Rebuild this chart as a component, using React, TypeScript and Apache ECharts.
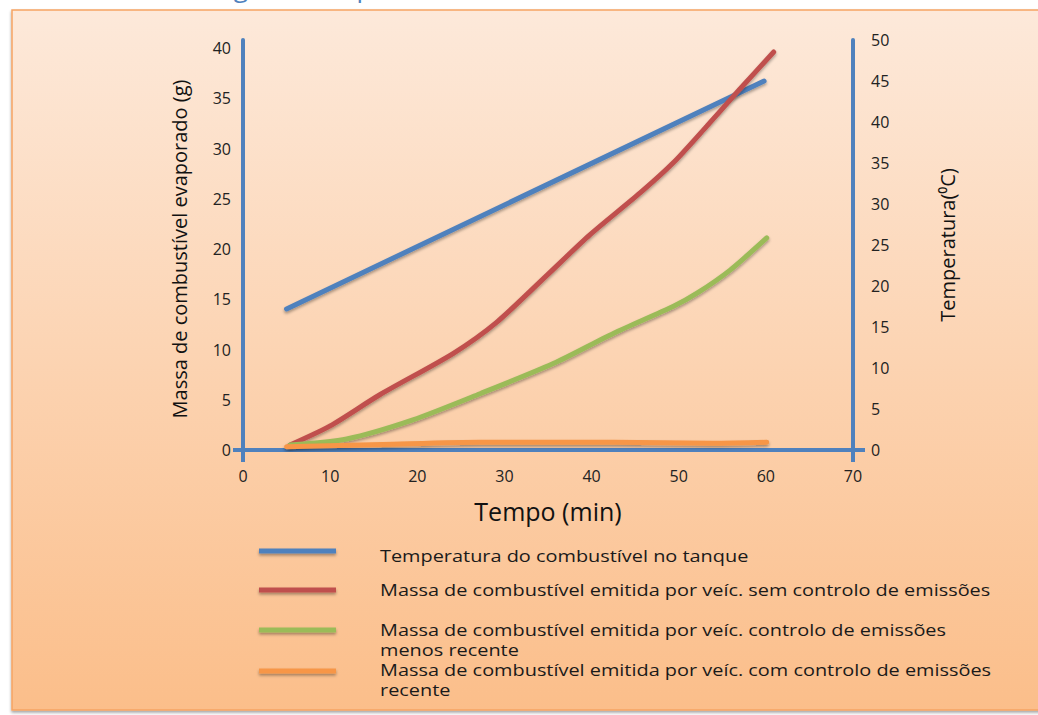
import { useEffect, useRef } from "react";
import * as echarts from "echarts";

// Legend entries and colours, in drawing order
const seriesNames = [
  "Temperatura do combustível no tanque",
  "Massa de combustível emitida por veíc. sem controlo de emissões",
  "Massa de combustível emitida por veíc. controlo de emissões\nmenos recente",
  "Massa de combustível emitida por veíc. com controlo de emissões\nrecente",
];
const seriesColors = ["#4f81bd", "#c0504d", "#9bbb59", "#f79646"];

// Fuel temperature in the tank (°C) against time (min)
const tempTime = [5, 59.8];
const tempValues = [17.2, 45];

// Evaporated mass (g), vehicle without emission control
const semTime = [5.4, 10, 15.7, 24.1, 29.1, 34.9, 39.8, 45.6, 49.4, 53.2, 57, 60.9];
const semMass = [0.5, 2.4, 5.5, 9.6, 12.7, 17.4, 21.4, 25.6, 28.6, 32.2, 35.9, 39.6];

// Evaporated mass (g), older emission control
const antigoTime = [5.4, 11.9, 19.5, 27.2, 35.6, 42.5, 49.4, 52.1, 55.9, 60.1];
const antigoMass = [0.5, 1.1, 3.0, 5.6, 8.6, 11.6, 14.3, 15.6, 17.9, 21.1];

// Evaporated mass (g), recent emission control
const recenteTime = [5, 16, 27.2, 42.5, 53.9, 60.1];
const recenteMass = [0.33, 0.55, 0.77, 0.77, 0.67, 0.77];

// Axis ranges and tick steps
const xRange = [0, 70];
const xStep = 10;
const massRange = [0, 40];
const tempRange = [0, 50];
const yStep = 5;

const pairs = (xs: number[], ys: number[]) => xs.map((x, i) => [x, ys[i]]);

const FONT = '"Open Sans", "DejaVu Sans", sans-serif';
const AXIS_BLUE = "#4f81bd";
const lineShadow = {
  shadowColor: "rgba(0,0,0,0.35)",
  shadowBlur: 3,
  shadowOffsetY: 2,
};

export default function App() {
  const ref = useRef<HTMLDivElement>(null);

  useEffect(() => {
    if (!ref.current) return;
    const chart = echarts.init(ref.current, null, { renderer: "svg" });

    const seriesData = [
      pairs(tempTime, tempValues),
      pairs(semTime, semMass),
      pairs(antigoTime, antigoMass),
      pairs(recenteTime, recenteMass),
    ];

    // legend: sample bar row and text top for each entry
    const legendRows = [551, 590, 630, 671];
    const legendTextTops = [545, 579, 619, 659];
    const legendGraphics: any[] = [];
    seriesNames.forEach((name, i) => {
      legendGraphics.push({
        type: "rect",
        shape: { x: 259, y: legendRows[i] - 2.5, width: 77, height: 5 },
        style: { fill: seriesColors[i], ...lineShadow },
        z: 10,
      });
      legendGraphics.push({
        type: "text",
        x: 380,
        y: legendTextTops[i],
        scaleX: 1.17,
        style: {
          text: name,
          fill: "#1a1a1a",
          font: `17px ${FONT}`,
          lineHeight: 20,
          verticalAlign: "top",
          align: "left",
        },
        z: 10,
      });
    });

    const option: any = {
      animation: false,
      graphic: [
        {
          type: "rect",
          shape: { x: 12, y: 10, width: 1040, height: 700 },
          style: {
            fill: new echarts.graphic.LinearGradient(0, 0, 0, 1, [
              { offset: 0, color: "#fde9da" },
              { offset: 1, color: "#fbbe8a" },
            ]),
            stroke: "#f6a463",
            lineWidth: 1.5,
            shadowColor: "rgba(0,0,0,0.35)",
            shadowBlur: 3,
            shadowOffsetY: 2,
          },
          z: -100,
        },
        {
          type: "text",
          x: 388,
          y: 0,
          style: {
            text: "Emissões evaporativas de combustível ao longo do tempo",
            fill: "#4f81bd",
            font: `26px ${FONT}`,
            align: "right",
            verticalAlign: "bottom",
          },
          z: -90,
        },
        ...legendGraphics,
      ],
      grid: [
        { left: 243, right: 185, top: 48, bottom: 265 },
        { left: 243, right: 185, top: 40, bottom: 265 },
      ],
      xAxis: [
        {
          gridIndex: 0,
          type: "value",
          min: xRange[0],
          max: xRange[1],
          interval: xStep,
          name: "Tempo (min)",
          nameLocation: "middle",
          nameGap: 48,
          nameTextStyle: { fontSize: 25, color: "#111", fontFamily: FONT },
          axisLine: { show: true, lineStyle: { color: AXIS_BLUE, width: 4 } },
          axisTick: {
            show: true,
            customValues: [xRange[0], xRange[1]],
            length: 12,
            lineStyle: { color: AXIS_BLUE, width: 4 },
          },
          axisLabel: { margin: 18, fontSize: 16, color: "#222", fontFamily: FONT },
          splitLine: { show: false },
        },
        {
          gridIndex: 1,
          type: "value",
          min: xRange[0],
          max: xRange[1],
          show: false,
        },
      ],
      yAxis: [
        {
          gridIndex: 0,
          type: "value",
          position: "left",
          min: massRange[0],
          max: massRange[1],
          interval: yStep,
          name: "Massa de combustível evaporado (g)",
          nameLocation: "middle",
          nameGap: 54,
          nameRotate: 90,
          nameTextStyle: { fontSize: 20, color: "#111", fontFamily: FONT },
          axisLine: { show: false },
          axisTick: {
            show: true,
            customValues: [0],
            length: 10,
            lineStyle: { color: AXIS_BLUE, width: 4 },
          },
          axisLabel: { margin: 12, fontSize: 16, color: "#222", fontFamily: FONT },
          splitLine: { show: false },
        },
        {
          gridIndex: 1,
          type: "value",
          position: "left",
          min: tempRange[0],
          max: tempRange[1],
          axisLine: { show: true, lineStyle: { color: AXIS_BLUE, width: 4 } },
          axisTick: { show: false },
          axisLabel: { show: false },
          splitLine: { show: false },
        },
        {
          gridIndex: 1,
          type: "value",
          position: "right",
          min: tempRange[0],
          max: tempRange[1],
          interval: yStep,
          name: "Temperatura(⁰C)",
          nameLocation: "middle",
          nameGap: 84,
          nameRotate: 90,
          nameTextStyle: { fontSize: 20, color: "#111", fontFamily: FONT },
          axisLine: { show: true, lineStyle: { color: AXIS_BLUE, width: 4 } },
          axisTick: {
            show: true,
            customValues: [0],
            length: 12,
            lineStyle: { color: AXIS_BLUE, width: 4 },
          },
          axisLabel: { margin: 18, fontSize: 16, color: "#222", fontFamily: FONT },
          splitLine: { show: false },
        },
      ],
      series: seriesNames.map((name, i) => ({
        name,
        type: "line",
        xAxisIndex: i === 0 ? 1 : 0,
        yAxisIndex: i === 0 ? 2 : 0,
        data: seriesData[i],
        smooth: i === 0 ? false : 0.25,
        showSymbol: false,
        symbol: "none",
        lineStyle: { color: seriesColors[i], width: 5, cap: "round", ...lineShadow },
        itemStyle: { color: seriesColors[i] },
        z: 3 + i,
      })),
    };

    chart.setOption(option);
    return () => chart.dispose();
  }, []);

  return (
    <div
      ref={ref}
      style={{ position: "fixed", left: 0, top: 0, width: 1038, height: 715, background: "#fff" }}
    />
  );
}
